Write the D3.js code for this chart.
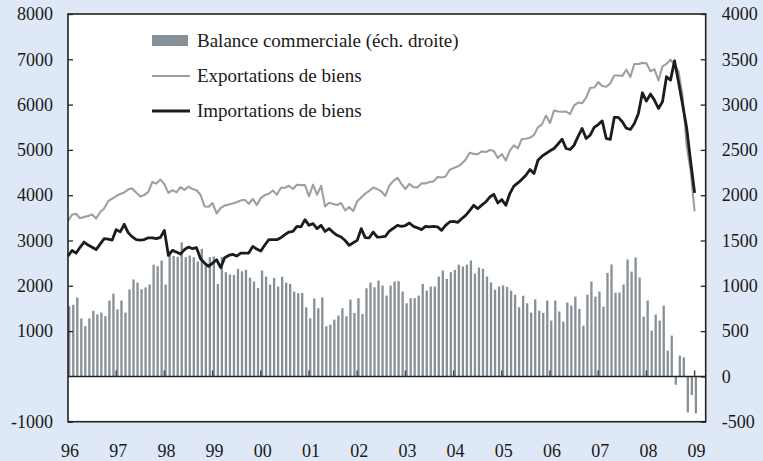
<!DOCTYPE html>
<html><head><meta charset="utf-8">
<script src="https://cdn.jsdelivr.net/npm/d3@7"></script>
<style>
html,body{margin:0;padding:0;background:#dfe8f6;}
svg{display:block;}
text{font-family:"Liberation Serif","Times New Roman",serif;font-size:18px;fill:#1a1a1a;}
</style></head><body>
<svg id="chart" width="763" height="461"></svg>
<script>
// ---- data (monthly, Jan 1996 .. Jan 2009) ----
const startYear = 1996;
const yearLabels = ["96","97","98","99","00","01","02","03","04","05","06","07","08","09"];
const leftTickValues = [-1000,1000,2000,3000,4000,5000,6000,7000,8000];
const rightTickValues = [-500,0,500,1000,1500,2000,2500,3000,3500,4000];
const legendLabels = ["Balance commerciale (éch. droite)","Exportations de biens","Importations de biens"];

const exportsData = [
 3431,3570,3590,3490,3521,3540,3575,3485,3625,3705,3867,3924,
 3980,4027,4061,4130,4150,4056,3972,4002,4074,4293,4255,4349,
 4238,4051,4112,4064,4180,4116,4189,4135,4109,4006,3750,3744,
 3825,3596,3715,3770,3794,3815,3843,3882,3898,3812,3917,3787,
 3935,4002,4032,4105,4010,4163,4165,4208,4136,4231,4222,4224,
 3976,4232,4014,4207,3753,3833,3807,3785,3828,3663,3741,3650,
 3866,3951,4036,4096,4171,4134,4083,3983,4212,4317,4385,4249,
 4137,4250,4176,4172,4261,4260,4292,4305,4402,4392,4411,4559,
 4599,4633,4693,4789,4939,4912,4904,4967,4952,4997,4977,4821,
 4908,4765,4983,5101,5034,5240,5247,5270,5328,5498,5563,5757,
 5596,5868,5847,5841,5847,5790,5985,6045,6033,6155,6372,6376,
 6496,6411,6395,6465,6642,6642,6634,6770,6608,6896,6896,6921,
 6914,6737,6781,6532,6843,6899,6991,6876,6729,6210,5102,4544,
 3642];
const importsData = [
 2656,2780,2720,2850,2966,2900,2850,2800,2920,3040,3030,3010,
 3240,3190,3357,3170,3080,3020,3010,3020,3060,3060,3040,3070,
 3224,2671,2782,2744,2700,2800,2855,2819,2841,2598,2500,2428,
 2502,2575,2399,2620,2670,2694,2656,2722,2722,2722,2870,2810,
 2767,2900,3018,3018,3018,3063,3130,3187,3200,3313,3300,3461,
 3335,3372,3262,3335,3200,3262,3180,3114,3076,3000,2893,2950,
 3003,3262,3063,3060,3187,3076,3080,3091,3209,3270,3335,3313,
 3330,3387,3313,3280,3240,3313,3300,3313,3300,3224,3335,3409,
 3423,3400,3480,3556,3660,3777,3704,3780,3850,3960,4020,3828,
 3903,3777,4036,4200,4271,4350,4440,4566,4478,4772,4861,4920,
 4980,5031,5130,5237,5031,5009,5104,5300,5473,5252,5325,5495,
 5560,5641,5252,5230,5717,5717,5620,5480,5451,5584,5805,6261,
 6077,6232,6099,5916,6062,6615,6541,6968,6500,6000,5500,4750,
 4050];
const balanceData = [
 775,790,870,640,555,640,725,685,705,665,837,914,
 740,837,704,960,1070,1036,962,982,1014,1233,1215,1279,
 1014,1380,1330,1320,1480,1316,1334,1316,1268,1408,1250,1316,
 1323,1021,1316,1150,1124,1121,1187,1160,1176,1090,1047,977,
 1168,1102,1014,1087,992,1100,1035,1021,936,918,922,763,
 641,860,752,872,553,571,627,671,752,663,848,700,
 863,689,973,1036,984,1058,1003,892,1003,1047,1050,936,
 807,863,863,892,1021,947,992,992,1102,1168,1076,1150,
 1176,1233,1213,1233,1279,1135,1200,1187,1102,1037,957,993,
 1005,988,947,901,763,890,807,704,850,726,702,837,
 616,837,717,604,816,781,881,745,560,903,1047,881,
 936,770,1143,1235,925,925,1014,1290,1157,1312,1091,660,
 837,505,682,616,781,284,450,-92,229,210,-398,-206,
 -408];

// ---- layout ----
const L = 68, R = 705.7, T = 14, B = 421.7;
const svg = d3.select("#chart");
const months = d3.range(exportsData.length); // month index from Jan 1996

const x = d3.scaleLinear().domain([0, 158.76]).range([L, R]);
const yL = d3.scaleLinear().domain([-1000, 8000]).range([B, T]);
const yR = d3.scaleLinear().domain([-500, 4000]).range([B, T]);

const barColor = "#879097";
const expColor = "#9f9f9f";
const impColor = "#1c1c1c";

svg.append("rect").attr("x", L).attr("y", T).attr("width", R - L).attr("height", B - T).attr("fill", "#fff");

// bars
svg.append("g").selectAll("rect").data(months).join("rect")
  .attr("x", i => x(i) + 0.1)
  .attr("width", 2.3)
  .attr("y", i => yR(Math.max(0, balanceData[i])))
  .attr("height", i => Math.abs(yR(balanceData[i]) - yR(0)))
  .attr("fill", barColor);

// zero line
svg.append("line").attr("x1", L).attr("x2", R).attr("y1", yR(0)).attr("y2", yR(0))
  .attr("stroke", "#222").attr("stroke-width", 1.5);

// year ticks on zero line
const yearIdx = yearLabels.map((d, k) => k * 12);
svg.append("g").selectAll("line").data(yearIdx.slice(1)).join("line")
  .attr("x1", d => x(d)).attr("x2", d => x(d))
  .attr("y1", yR(0)).attr("y2", yR(0) - 6)
  .attr("stroke", "#4a4a4a").attr("stroke-width", 1.5);

// lines
const lineGen = arr => d3.line().x(i => x(i)).y(i => yL(arr[i]))(months);
svg.append("path").attr("d", lineGen(exportsData)).attr("fill", "none")
  .attr("stroke", expColor).attr("stroke-width", 2.1).attr("stroke-linejoin", "round");
svg.append("path").attr("d", lineGen(importsData)).attr("fill", "none")
  .attr("stroke", impColor).attr("stroke-width", 2.8).attr("stroke-linejoin", "round");

// axes
const fmt = d => String(d);
const leftAxis = d3.axisLeft(yL).tickValues(leftTickValues).tickSize(-5).tickPadding(15).tickFormat(fmt);
const gl = svg.append("g").attr("transform", `translate(${L},0)`).call(leftAxis);
const rightAxis = d3.axisRight(yR).tickValues(rightTickValues).tickSize(-5).tickPadding(16).tickFormat(fmt);
const gr = svg.append("g").attr("transform", `translate(${R},0)`).call(rightAxis);
const bottomAxis = d3.axisBottom(x).tickValues(yearIdx).tickSize(0).tickPadding(23).tickFormat((d, k) => yearLabels[k]);
const gb = svg.append("g").attr("transform", `translate(0,${B})`).call(bottomAxis);
[gl, gr, gb].forEach(g => {
  g.select(".domain").remove();
  g.selectAll("line").attr("stroke", "#222").attr("stroke-width", 1.3);
  g.selectAll("text").attr("font-family", null).attr("font-size", null).attr("fill", "#1a1a1a");
});
gb.selectAll("text").attr("dx", 1.5);

// border
svg.append("rect").attr("x", L).attr("y", T).attr("width", R - L).attr("height", B - T)
  .attr("fill", "none").attr("stroke", "#222").attr("stroke-width", 1.6);

// legend
const lg = svg.append("g");
lg.append("rect").attr("x", 152).attr("y", 35).attr("width", 36).attr("height", 11).attr("fill", barColor);
lg.append("line").attr("x1", 152).attr("x2", 190).attr("y1", 76).attr("y2", 76).attr("stroke", expColor).attr("stroke-width", 2);
lg.append("line").attr("x1", 152).attr("x2", 190).attr("y1", 111).attr("y2", 111).attr("stroke", impColor).attr("stroke-width", 3);
lg.selectAll("text").data(legendLabels).join("text")
  .attr("x", 197).attr("y", (d, k) => 41 + k * 35).attr("dy", "0.33em")
  .style("font-size", "19px").text(d => d);
</script></body></html>
